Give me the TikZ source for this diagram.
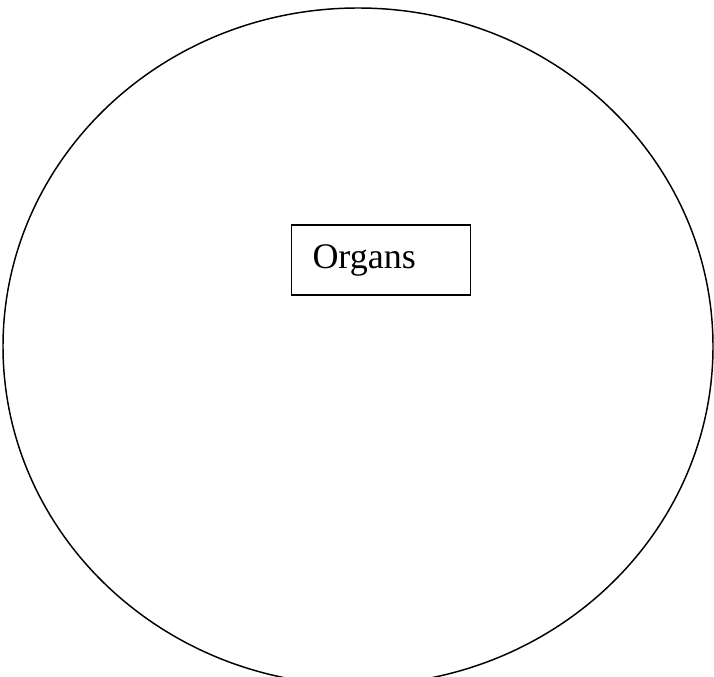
\documentclass[tikz,border=0pt]{standalone}
\usepackage{fontspec}
\setmainfont{Liberation Serif}
\usetikzlibrary{positioning}

\tikzset{
    labelbox/.style={draw, line width=1.1pt, align=left, inner xsep=15.75pt,
        text width=102.75pt, minimum height=52.5pt, font=\fontsize{27}{30}\selectfont}
}

\begin{document}
\begin{tikzpicture}[x=0.75pt, y=0.75pt]
    \useasboundingbox (0,0) rectangle (714,-677);
    
    % Outer body
    \draw[line width=1.1pt] (358,-346.5) ellipse [x radius=355, y radius=338.5];
    
    % Label box
    \node[labelbox] (organs) at (381,-260) {Organs};
\end{tikzpicture}
\end{document}
